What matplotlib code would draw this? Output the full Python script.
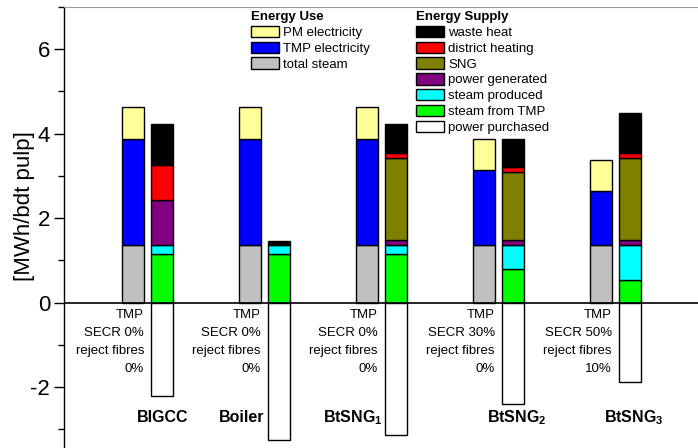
import matplotlib
matplotlib.use("Agg")
import matplotlib.pyplot as plt
from matplotlib.patches import Patch
import numpy as np

plt.rcParams['font.family'] = ['Liberation Sans', 'DejaVu Sans']
plt.rcParams['mathtext.fontset'] = 'custom'
plt.rcParams['mathtext.rm'] = 'Liberation Sans'
plt.rcParams['mathtext.bf'] = 'Liberation Sans:bold'
plt.rcParams['axes.unicode_minus'] = False

# cases
cases = ["BIGCC", "Boiler", r"BtSNG$_\mathbf{1}$", r"BtSNG$_\mathbf{2}$", r"BtSNG$_\mathbf{3}$"]
secr = [0, 0, 0, 30, 50]
reject_fibres = [0, 0, 0, 0, 10]

# energy use [MWh/bdt pulp]
total_steam = [1.37, 1.37, 1.37, 1.37, 1.37]
tmp_electricity = [2.51, 2.51, 2.51, 1.77, 1.26]
pm_electricity = [0.75, 0.75, 0.75, 0.74, 0.74]

# energy supply [MWh/bdt pulp]
steam_from_tmp = [1.15, 1.15, 1.15, 0.79, 0.53]
steam_produced = [0.22, 0.22, 0.22, 0.58, 0.84]
power_generated = [1.05, 0.0, 0.12, 0.11, 0.11]
sng = [0.0, 0.0, 1.93, 1.62, 1.94]
district_heating = [0.84, 0.0, 0.13, 0.10, 0.13]
waste_heat = [0.97, 0.09, 0.68, 0.68, 0.93]
power_purchased = [-2.21, -3.25, -3.14, -2.40, -1.89]

use_stack = [
    ("total steam", total_steam, "#c0c0c0"),
    ("TMP electricity", tmp_electricity, "#0000ff"),
    ("PM electricity", pm_electricity, "#ffff99"),
]
supply_stack = [
    ("steam from TMP", steam_from_tmp, "#00ff00"),
    ("steam produced", steam_produced, "#00ffff"),
    ("power generated", power_generated, "#800080"),
    ("SNG", sng, "#808000"),
    ("district heating", district_heating, "#ff0000"),
    ("waste heat", waste_heat, "#000000"),
]

fig = plt.figure(figsize=(6.98, 4.48), dpi=100)
ax = fig.add_axes([64 / 698, 0, 634 / 698, 441.3 / 448])

x = np.arange(len(cases))
w = 0.188
x_sup = x + 0.25

bottom = np.zeros(len(cases))
for name, vals, col in use_stack:
    ax.bar(x, vals, w, bottom=bottom, color=col, edgecolor="black", linewidth=1, zorder=3)
    bottom += np.array(vals)

bottom = np.zeros(len(cases))
for name, vals, col in supply_stack:
    vals = np.array(vals)
    ax.bar(x_sup, vals, w, bottom=bottom, color=col, edgecolor="black",
           linewidth=np.where(vals > 0, 1, 0), zorder=3)
    bottom += vals
ax.bar(x_sup, power_purchased, w, color="white", edgecolor="black", linewidth=1, zorder=3)

ax.axhline(0, color="black", lw=1.2, zorder=4)

# case descriptions under the zero line
for i in range(len(cases)):
    ax.text(x[i] + w / 2, -0.16, f"TMP\nSECR {secr[i]}%\nreject fibres\n{reject_fibres[i]}%",
            ha="right", va="top", fontsize=9.5, linespacing=1.66)

label_y = -2.73
ax.text(x_sup[0], label_y, cases[0], ha="center", va="center", fontsize=11.5, fontweight="bold")
ax.text(x_sup[1] - w / 2 - 0.03, label_y, cases[1], ha="right", va="center", fontsize=11.5, fontweight="bold")
ax.text(x_sup[2] - w / 2 - 0.02, label_y, cases[2], ha="right", va="center", fontsize=11.5, fontweight="bold")
ax.text(x_sup[3] + 0.03, label_y, cases[3], ha="center", va="center", fontsize=11.5, fontweight="bold")
ax.text(x_sup[4] + 0.03, label_y, cases[4], ha="center", va="center", fontsize=11.5, fontweight="bold")

ax.set_xlim(-0.59, 4.83)
ax.set_ylim(-3.44, 7.0)
ax.set_xticks([])
ax.set_yticks([-2, 0, 2, 4, 6])
ax.set_yticks([-3, -1, 1, 3, 5, 7], minor=True)
ax.tick_params(axis="y", which="major", length=7, width=1, labelsize=16, pad=3)
ax.tick_params(axis="y", which="minor", length=4, width=1)

ax.spines["right"].set_visible(False)
ax.spines["bottom"].set_visible(False)
ax.spines["top"].set_color("#999999")
ax.spines["top"].set_linewidth(0.8)
ax.spines["left"].set_linewidth(1)

ax.set_ylabel("[MWh/bdt pulp]", fontsize=16)
ax.yaxis.label.set_va("center")
ax.yaxis.set_label_coords(-0.063, 0.548)

leg_kw = dict(frameon=False, fontsize=9.5, handlelength=2.1, handleheight=0.95,
              handletextpad=0.35, labelspacing=0.2, borderpad=0, borderaxespad=0,
              loc="upper left", bbox_transform=fig.transFigure, alignment="left",
              title_fontproperties={"weight": "bold", "size": 9.5})

use_handles = [Patch(facecolor=c, edgecolor="black", label=n) for n, v, c in reversed(use_stack)]
leg1 = ax.legend(handles=use_handles, title="Energy Use",
                 bbox_to_anchor=(251 / 698, 1 - 11 / 448), **leg_kw)
ax.add_artist(leg1)

supply_handles = [Patch(facecolor=c, edgecolor="black", label=n) for n, v, c in reversed(supply_stack)]
supply_handles.append(Patch(facecolor="white", edgecolor="black", label="power purchased"))
ax.legend(handles=supply_handles, title="Energy Supply",
          bbox_to_anchor=(416 / 698, 1 - 11 / 448), **leg_kw)

fig.savefig("out.png", dpi=100)
